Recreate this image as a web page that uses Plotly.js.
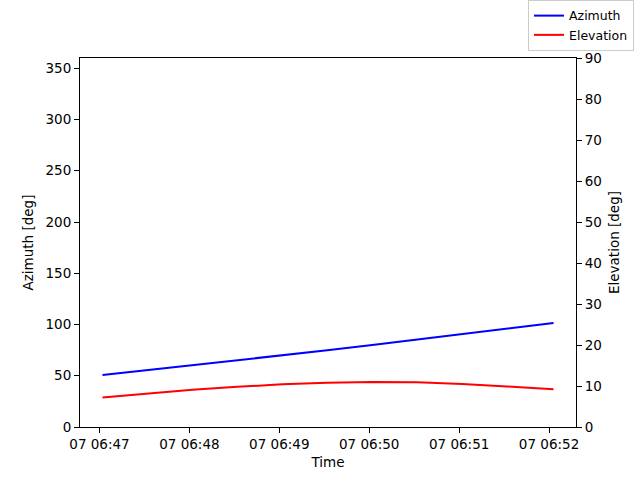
<!DOCTYPE html>
<html>
<head>
<meta charset="utf-8">
<script src="https://cdn.plot.ly/plotly-3.0.1.min.js"></script>
<style>
  html, body { margin: 0; padding: 0; background: #fff; }
  #chart { width: 640px; height: 480px; }
</style>
</head>
<body>
<div id="chart"></div>
<script>
// pass samples
const times = [
    "2023-03-07 06:47:02", "2023-03-07 06:47:32", "2023-03-07 06:48:02",
    "2023-03-07 06:48:32", "2023-03-07 06:49:02", "2023-03-07 06:49:32",
    "2023-03-07 06:50:02", "2023-03-07 06:50:32", "2023-03-07 06:51:02",
    "2023-03-07 06:51:32", "2023-03-07 06:52:02", "2023-03-07 06:52:03"
]
const azimuth = [50.7, 55.4, 60.1, 64.9, 69.8, 74.8, 79.9, 85.1, 90.5, 95.9, 101.3, 101.5]
const elevation = [7.2, 8.2, 9.1, 9.8, 10.4, 10.8, 11.0, 10.9, 10.5, 9.9, 9.2, 9.2]

const xRange = ["2023-03-07 06:46:47", "2023-03-07 06:52:18"]
const tickFont = {family: "DejaVu Sans", size: 13.5, color: "#000"}

const traces = [
    {
        name: "Azimuth",
        x: times,
        y: azimuth,
        mode: "lines",
        type: "scatter",
        line: {color: "#0000ff", width: 2},
        yaxis: "y"
    },
    {
        name: "Elevation",
        x: times,
        y: elevation,
        mode: "lines",
        type: "scatter",
        line: {color: "#ff0000", width: 2},
        yaxis: "y2"
    }
]

const axisCommon = {
    showgrid: false,
    zeroline: false,
    showline: true,
    linecolor: "#000",
    linewidth: 1,
    ticks: "outside",
    ticklen: 5,
    tickwidth: 1,
    tickcolor: "#000",
    tickfont: tickFont
}

const layout = {
    width: 640,
    height: 480,
    margin: {l: 80, r: 64, t: 58, b: 53, autoexpand: false},
    paper_bgcolor: "#fff",
    plot_bgcolor: "#fff",
    font: {family: "DejaVu Sans", size: 13.5, color: "#000"},
    showlegend: true,
    legend: {
        x: 1.117, xanchor: "right",
        y: 1.019, yanchor: "bottom",
        bgcolor: "#fff",
        bordercolor: "#cccccc",
        borderwidth: 1,
        font: {family: "DejaVu Sans", size: 12.5, color: "#000"},
        tracegroupgap: 0
    },
    xaxis: Object.assign({}, axisCommon, {
        type: "date",
        range: xRange,
        dtick: 60000,
        tick0: "2023-03-07 06:47:00",
        tickformat: "%d %H:%M",
        mirror: true,
        title: {text: "Time", font: tickFont, standoff: 6}
    }),
    yaxis: Object.assign({}, axisCommon, {
        range: [0, 360],
        dtick: 50,
        title: {text: "Azimuth [deg]", font: tickFont, standoff: 8}
    }),
    yaxis2: Object.assign({}, axisCommon, {
        range: [0, 90],
        dtick: 10,
        overlaying: "y",
        side: "right",
        title: {text: "Elevation [deg]", font: tickFont, standoff: 8}
    })
}

Plotly.newPlot("chart", traces, layout, {displayModeBar: false, staticPlot: true})
</script>
</body>
</html>
